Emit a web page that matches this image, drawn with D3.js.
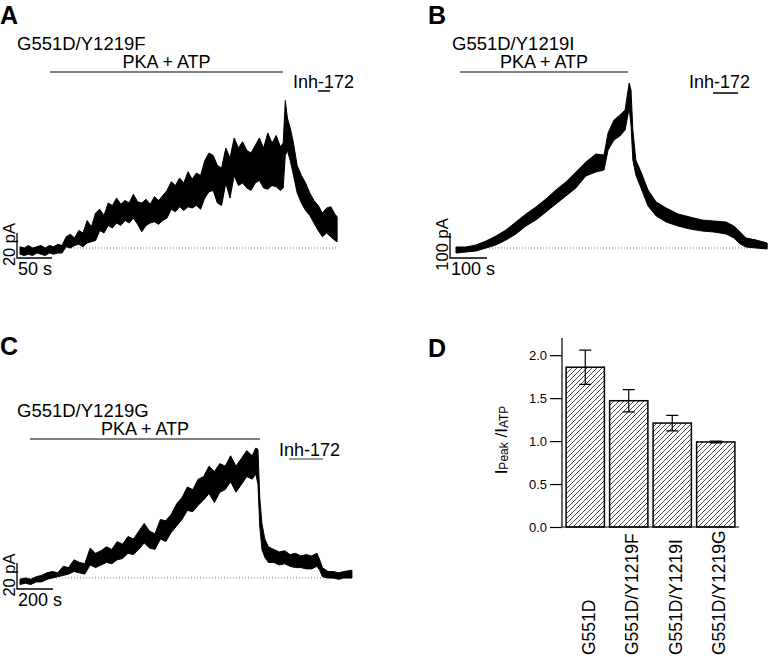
<!DOCTYPE html>
<html>
<head>
<meta charset="utf-8">
<script src="https://cdn.jsdelivr.net/npm/d3@7"></script>
<style>
  body { margin: 0; background: #fff; }
  svg text { font-family: "Liberation Sans", Arial, sans-serif; fill: #000; }
</style>
</head>
<body>
<div id="fig"></div>
<script>
// trace A: G551D/Y1219F (time s, current pA, upper/lower edge of the noisy record)
const tA  = [0, 6, 12, 18, 24, 30, 36, 42, 48, 54, 60, 66, 72, 78, 84, 90, 96, 102, 108, 114, 120, 126, 132, 138, 144, 150, 156, 162, 168, 174, 180, 186, 192, 198, 204, 210, 216, 222, 228, 234, 240, 246, 252, 258, 264, 270, 276, 282, 288, 294, 300, 306, 312, 318, 324, 330, 336, 342, 348, 354, 360, 366, 372, 376, 379, 382, 386, 390, 396, 402, 408, 414, 420, 426, 432, 438, 444, 450, 453];
const hiA = [1, 0, 2, 0, 1, 2, 0, 2, 1, 3, 2, 9, 11, 8, 14, 12, 22, 17, 28, 31, 26, 36, 34, 40, 35, 38, 36, 43, 37, 36, 39, 35, 41, 38, 42, 46, 53, 50, 56, 52, 61, 55, 60, 58, 70, 76, 74, 66, 64, 80, 72, 88, 80, 85, 78, 76, 82, 88, 80, 92, 84, 90, 81, 84, 118, 104, 96, 86, 66, 58, 52, 44, 38, 34, 28, 32, 33, 27, 25];
const loA = [-5, -6, -5, -6, -4, -5, -6, -4, -5, -4, -4, 1, 0, 2, 3, 1, 4, 5, 6, 14, 12, 18, 16, 20, 18, 22, 20, 24, 19, 13, 18, 20, 21, 19, 22, 24, 31, 29, 33, 30, 33, 32, 34, 31, 40, 45, 46, 36, 34, 52, 40, 58, 50, 52, 48, 46, 52, 54, 48, 47, 50, 49, 46, 48, 74, 78, 70, 60, 44, 36, 30, 26, 20, 14, 9, 12, 9, 6, 5];

// trace B: G551D/Y1219I
const tB  = [0, 27, 54, 81, 108, 135, 162, 189, 216, 243, 270, 297, 324, 351, 378, 400, 411, 427, 443, 457, 468, 473, 478, 486, 500, 519, 541, 568, 600, 632, 665, 697, 730, 751, 768, 784, 811, 841];
const hiB = [4, 4, 12, 28, 48, 72, 104, 136, 164, 196, 232, 264, 304, 344, 376, 372, 460, 512, 532, 552, 660, 632, 472, 352, 304, 232, 184, 160, 136, 124, 112, 108, 104, 88, 64, 40, 32, 20];
const loB = [-20, -16, -12, 0, 12, 32, 56, 88, 112, 144, 176, 208, 240, 288, 304, 312, 392, 432, 448, 472, 560, 492, 352, 292, 240, 168, 128, 104, 88, 76, 68, 64, 56, 40, 16, 4, 0, -4];

// trace C: G551D/Y1219G
const tC  = [0, 30, 60, 90, 120, 150, 180, 210, 240, 270, 300, 330, 360, 390, 420, 450, 480, 510, 540, 570, 600, 630, 660, 690, 720, 750, 780, 810, 840, 870, 900, 930, 960, 990, 1020, 1050, 1080, 1110, 1140, 1170, 1200, 1230, 1260, 1290, 1310, 1322, 1332, 1344, 1360, 1380, 1410, 1440, 1470, 1500, 1530, 1560, 1590, 1620, 1650, 1665, 1680, 1710, 1740, 1770, 1800, 1844];
const hiC = [-1, 0, -1, 1, 2, 4, 5, 4, 9, 8, 14, 12, 11, 23, 19, 21, 24, 22, 28, 26, 32, 30, 36, 42, 36, 34, 45, 44, 49, 57, 62, 70, 68, 76, 78, 86, 82, 88, 86, 94, 86, 92, 98, 94, 100, 99, 62, 42, 30, 24, 22, 20, 21, 18, 19, 17, 18, 17, 19, 14, 8, 5, 5, 4, 5, 6];
const loC = [-5, -4, -5, -3, -3, -1, 0, 1, 2, 3, 5, 4, 3, 10, 8, 10, 12, 11, 14, 15, 19, 18, 22, 27, 23, 22, 30, 28, 35, 40, 45, 52, 51, 56, 60, 65, 58, 66, 68, 74, 66, 72, 78, 76, 80, 72, 40, 22, 16, 12, 12, 10, 11, 9, 8, 8, 7, 7, 9, 6, 1, 0, 0, -1, 0, 0];

// panel D bar chart
const mutants = ['G551D', 'G551D/Y1219F', 'G551D/Y1219I', 'G551D/Y1219G'];
const ratio   = [1.86, 1.47, 1.21, 0.99];
const ratioErr = [0.2, 0.13, 0.09, 0.01];
const yTicks  = [0, 0.5, 1.0, 1.5, 2.0];

const width = 769, height = 657;
const svg = d3.select('#fig').append('svg')
    .attr('width', width)
    .attr('height', height);

const defs = svg.append('defs');
defs.append('pattern')
    .attr('id', 'hatch')
    .attr('patternUnits', 'userSpaceOnUse')
    .attr('width', 5).attr('height', 5)
  .append('path')
    .attr('d', 'M-1,1 l2,-2 M0,5 l5,-5 M4,6 l2,-2')
    .attr('stroke', '#333')
    .attr('stroke-width', 0.9);

// draws one current-trace panel
function tracePanel(o) {
    const g = svg.append('g');
    const x = d3.scaleLinear().domain([0, o.tBar]).range([o.x0, o.x0 + o.tBarPx]);
    const y = d3.scaleLinear().domain([0, o.iBar]).range([o.y0, o.y0 - o.iBarPx]);

    g.append('text').attr('x', o.letter[0]).attr('y', o.letter[1])
        .attr('font-size', 25).attr('font-weight', 'bold').text(o.name);
    g.append('text').attr('x', o.title[0]).attr('y', o.title[1])
        .attr('font-size', 18.5).text(o.label);

    // solution application bar
    g.append('text').attr('x', (o.pka[0] + o.pka[1]) / 2).attr('y', o.pka[2] - 4)
        .attr('text-anchor', 'middle').attr('font-size', 18).text('PKA + ATP');
    g.append('line').attr('x1', o.pka[0]).attr('x2', o.pka[1])
        .attr('y1', o.pka[2]).attr('y2', o.pka[2])
        .attr('stroke', '#000').attr('stroke-width', 1.2);
    g.append('text').attr('x', o.inh[0]).attr('y', o.inh[1])
        .attr('font-size', 18).text('Inh-172');
    g.append('line').attr('x1', o.inh[2]).attr('x2', o.inh[3])
        .attr('y1', o.inh[1] + o.inh[4]).attr('y2', o.inh[1] + o.inh[4])
        .attr('stroke', o.inhColor).attr('stroke-width', 1.5);

    // zero-current line
    g.append('line')
        .attr('x1', x(0)).attr('x2', x(d3.max(o.t)))
        .attr('y1', y(0)).attr('y2', y(0))
        .attr('stroke', '#555').attr('stroke-width', 0.8)
        .attr('stroke-dasharray', '1,2');

    const pts = o.t.map((t, i) => ({ t, hi: o.hi[i], lo: o.lo[i] }));
    const area = d3.area().x(d => x(d.t)).y0(d => y(d.lo)).y1(d => y(d.hi));
    g.append('path').datum(pts).attr('d', area)
        .attr('fill', '#000').attr('stroke', '#000').attr('stroke-width', 1)
        .attr('stroke-linejoin', 'miter');

    // scale bars
    const sx = o.bar[0], sy = o.bar[1];
    const vLen = y(0) - y(o.iBar), hLen = x(o.tBar) - x(0);
    g.append('path')
        .attr('d', `M${sx},${sy - vLen}V${sy}H${sx + hLen}`)
        .attr('fill', 'none').attr('stroke', '#000').attr('stroke-width', 1.3);
    g.append('text').attr('x', sx + 1).attr('y', sy + 17)
        .attr('font-size', 18).text(o.tBar + ' s');
    g.append('text')
        .attr('transform', `translate(${sx - 2},${sy - vLen / 2 - 1}) rotate(-90)`)
        .attr('text-anchor', 'middle').attr('font-size', 16.5)
        .text(o.iBar + ' pA');
}

tracePanel({
    name: 'A', letter: [0, 24], label: 'G551D/Y1219F', title: [17, 50],
    pka: [50, 283, 72], inh: [293, 88, 318, 330, 3], inhColor: '#000',
    t: tA, hi: hiA, lo: loA,
    x0: 20, y0: 248, tBar: 50, tBarPx: 35, iBar: 20, iBarPx: 25,
    bar: [17, 258]
});
tracePanel({
    name: 'B', letter: [428, 24], label: 'G551D/Y1219I', title: [452, 50],
    pka: [460, 628, 72], inh: [689, 88, 713, 738, 5], inhColor: '#000',
    t: tB, hi: hiB, lo: loB,
    x0: 456, y0: 248, tBar: 100, tBarPx: 37, iBar: 100, iBarPx: 25,
    bar: [450, 258]
});
tracePanel({
    name: 'C', letter: [0, 355], label: 'G551D/Y1219G', title: [17, 417],
    pka: [30, 260, 439], inh: [279, 456, 289, 323, 3], inhColor: '#777',
    t: tC, hi: hiC, lo: loC,
    x0: 20, y0: 578, tBar: 200, tBarPx: 36, iBar: 20, iBarPx: 26,
    bar: [17, 589]
});

// panel D
const gD = svg.append('g');
gD.append('text').attr('x', 428).attr('y', 357)
    .attr('font-size', 25).attr('font-weight', 'bold').text('D');

const y = d3.scaleLinear().domain([0, 2.2]).range([527, 338]);
const x = d3.scaleBand().domain(mutants).range([563.5, 737.5])
    .paddingInner(0.12).paddingOuter(0.06);

gD.selectAll('rect.bar').data(mutants).join('rect')
    .attr('class', 'bar')
    .attr('x', d => x(d)).attr('width', x.bandwidth())
    .attr('y', (d, i) => y(ratio[i])).attr('height', (d, i) => y(0) - y(ratio[i]))
    .attr('fill', 'url(#hatch)').attr('stroke', '#000').attr('stroke-width', 1.5);

const err = gD.selectAll('g.err').data(mutants).join('g').attr('class', 'err')
    .attr('transform', d => `translate(${x(d) + x.bandwidth() / 2},0)`);
err.append('path')
    .attr('d', (d, i) => {
        const t = y(ratio[i] + ratioErr[i]), b = y(ratio[i] - ratioErr[i]);
        return `M-6,${t}H6M0,${t}V${b}M-6,${b}H6`;
    })
    .attr('fill', 'none').attr('stroke', '#000').attr('stroke-width', 1.2);

const yAxis = gD.append('g').attr('transform', 'translate(562,0)')
    .call(d3.axisLeft(y).tickValues(yTicks).tickFormat(d3.format('.1f'))
        .tickSize(12).tickPadding(3));
yAxis.select('.domain').attr('d', `M0,${y(2.2)}V${y(0)}`).attr('stroke-width', 1.2);
yAxis.selectAll('.tick line').attr('stroke-width', 1.2);
yAxis.selectAll('.tick text').attr('font-size', 13).attr('fill', '#222')
    .attr('font-family', '"Liberation Sans", Arial, sans-serif');

gD.append('line').attr('x1', 562).attr('x2', 739).attr('y1', y(0)).attr('y2', y(0))
    .attr('stroke', '#000').attr('stroke-width', 1.2);

gD.selectAll('text.cat').data(mutants).join('text')
    .attr('class', 'cat')
    .attr('transform', d => `translate(${x(d) + x.bandwidth() / 2 + 9.5},655) rotate(-90)`)
    .attr('font-size', 17.5).text(d => d);

const yl = gD.append('text')
    .attr('transform', 'translate(507,440) rotate(-90)')
    .attr('text-anchor', 'middle').attr('font-size', 17);
yl.append('tspan').text('I');
yl.append('tspan').attr('font-size', 12).attr('dy', 1).text('Peak');
yl.append('tspan').attr('dy', -1).text(' /I');
yl.append('tspan').attr('font-size', 12).attr('dy', 1).text('ATP');
</script>
</body>
</html>
